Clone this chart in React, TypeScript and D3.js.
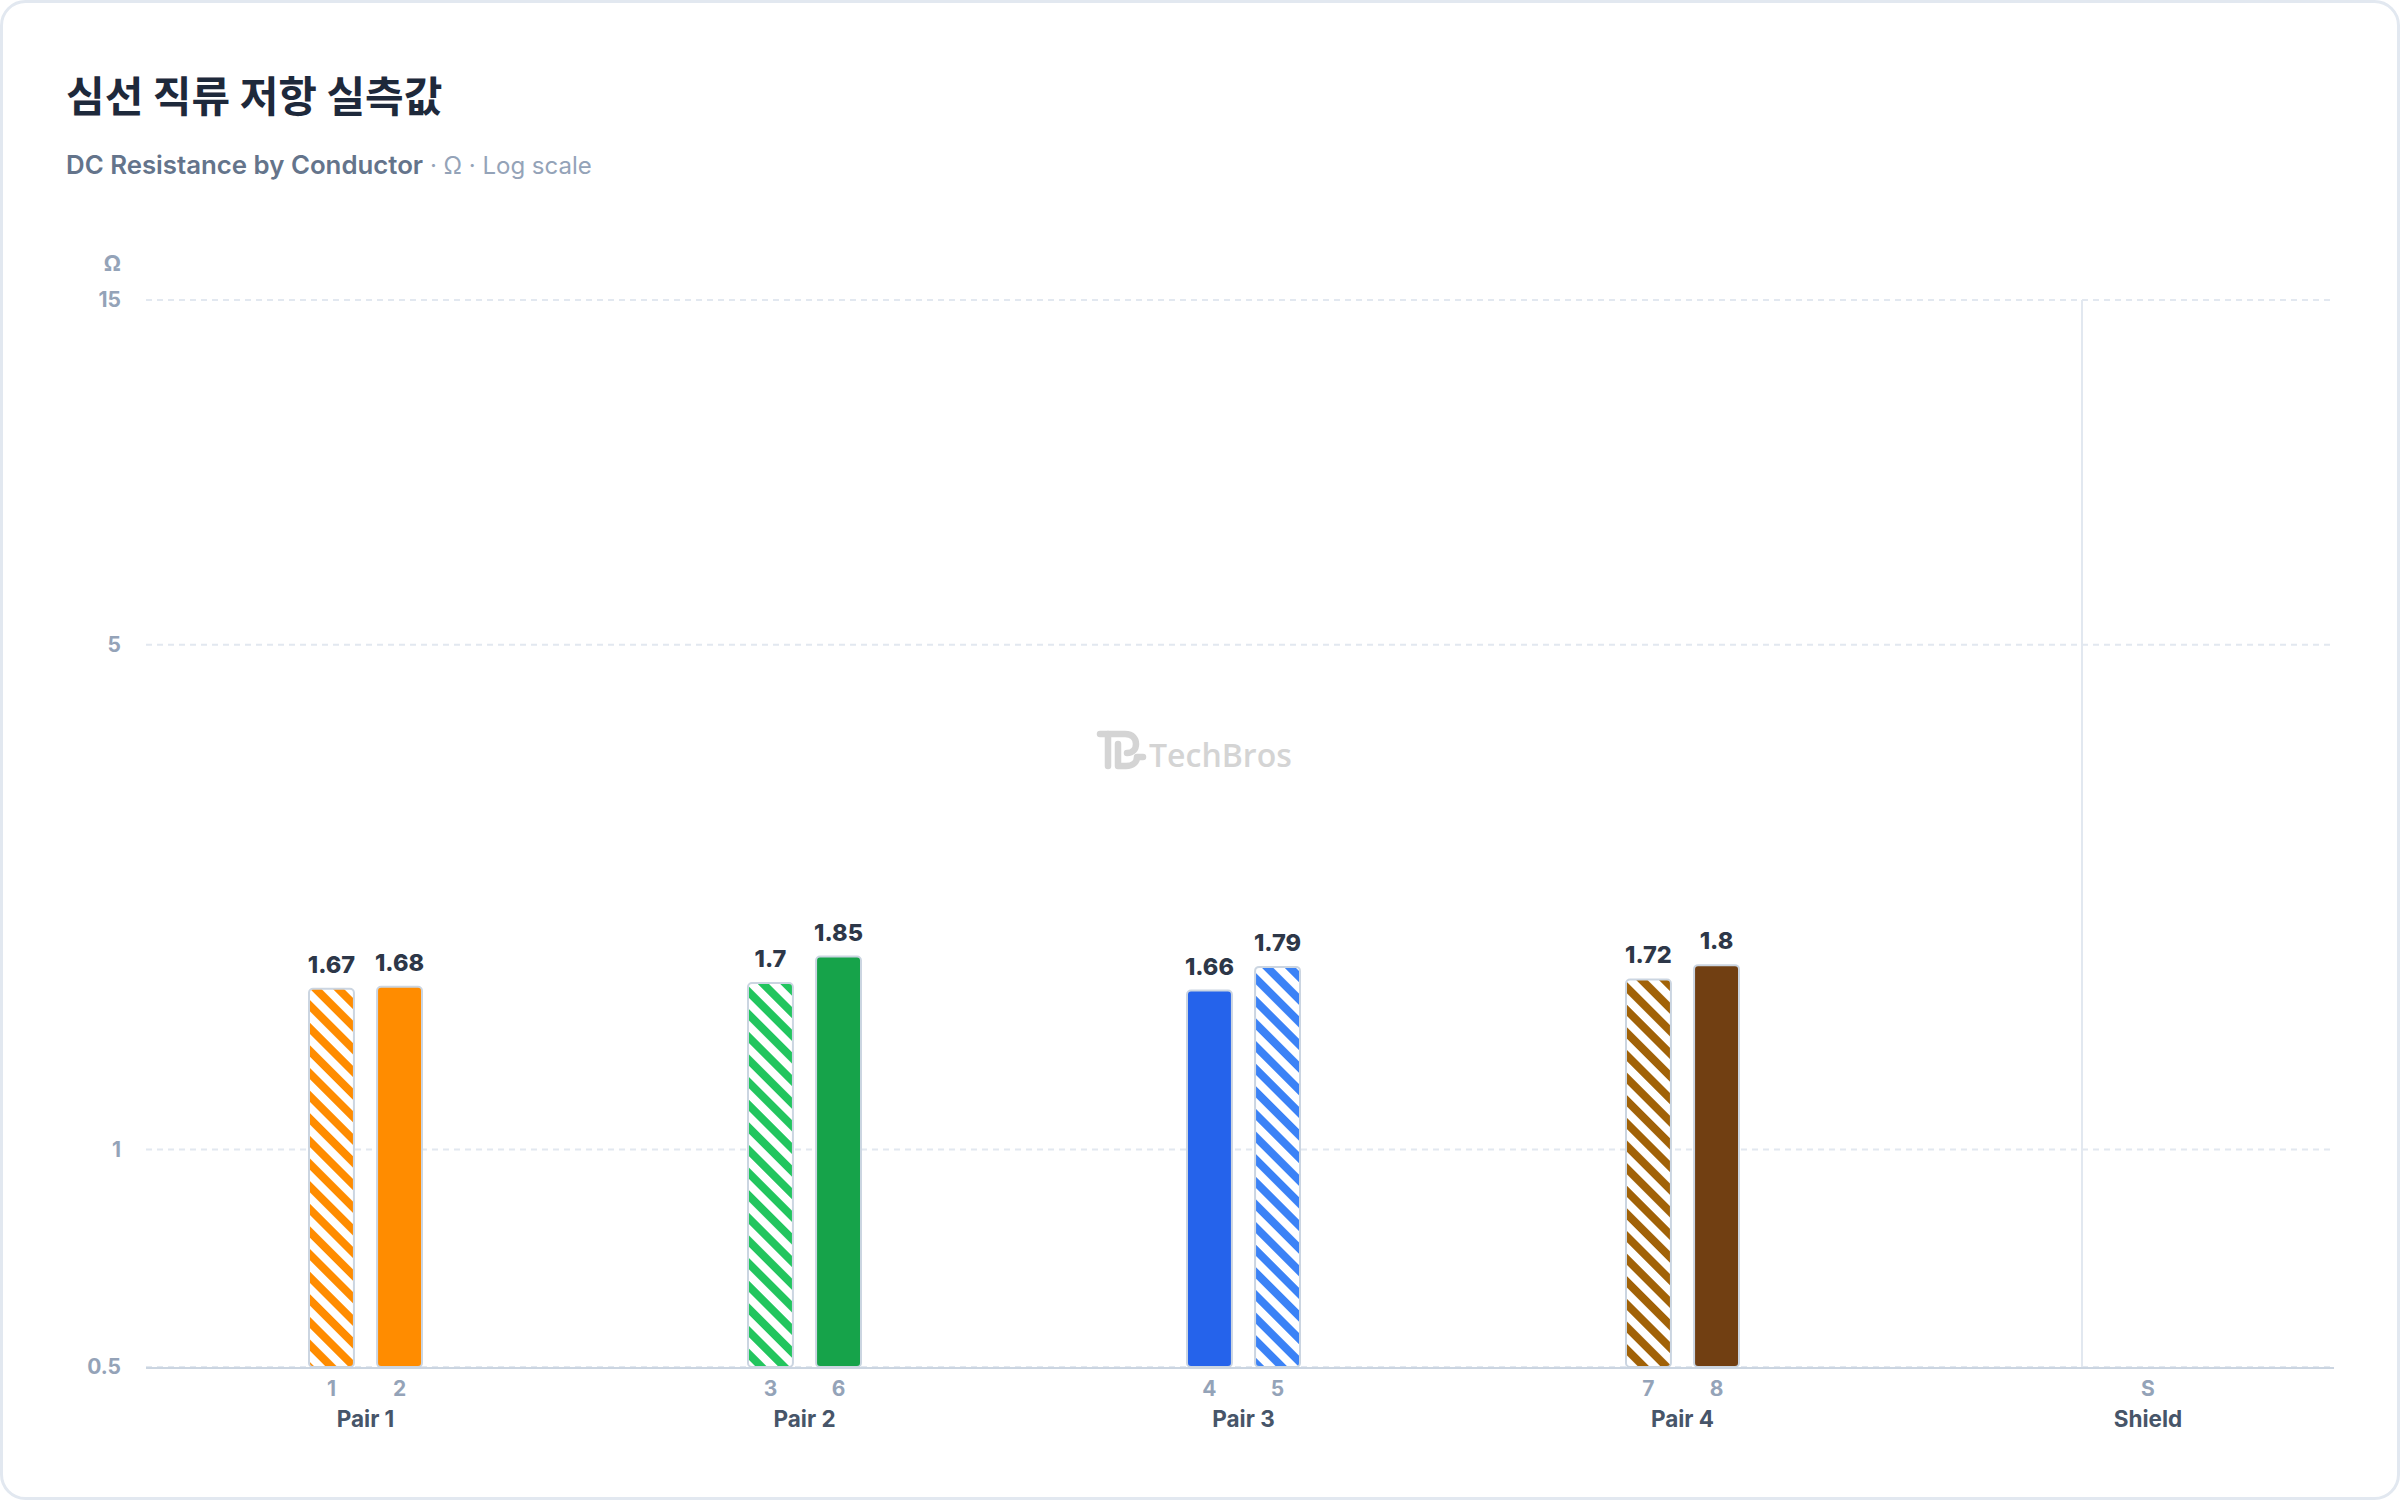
import * as d3 from "d3";

// Conductor data (Ω)
const pairs = ["Pair 1", "Pair 2", "Pair 3", "Pair 4"];
const conductors = ["1", "2", "3", "6", "4", "5", "7", "8"];
const conductorPair = ["Pair 1", "Pair 1", "Pair 2", "Pair 2", "Pair 3", "Pair 3", "Pair 4", "Pair 4"];
const resistance = [1.67, 1.68, 1.7, 1.85, 1.66, 1.79, 1.72, 1.8];
const striped = [true, false, true, false, false, true, true, false];
const barColors = ["#ff8c00", "#ff8c00", "#22c55e", "#16a34a", "#2563eb", "#3b82f6", "#a16207", "#713f12"];
const shieldTick = "S";
const shieldLabel = "Shield";
const yTicks = [0.5, 1, 5, 15];

const W = 2400;
const H = 1500;
const margin = { top: 300, right: 66, bottom: 133, left: 146 };
const FONT = "Inter, 'Noto Sans CJK KR', 'Noto Sans', sans-serif";

export default function App() {
  const plotRight = W - margin.right;
  const plotBottom = H - margin.bottom;

  const y = d3.scaleLog().domain([0.5, 15]).range([plotBottom, margin.top]);

  // groups
  const groupStep = 439;
  const x = d3
    .scaleBand<string>()
    .domain(pairs)
    .range([margin.left, margin.left + groupStep * pairs.length])
    .padding(0);
  const inner = d3.scaleBand<number>().domain([0, 1]).range([-56.5, 56.5]).paddingInner(0.34);

  const dividerX = margin.left + groupStep * pairs.length + 180;
  const shieldX = d3.scaleBand<string>().domain([shieldTick]).range([dividerX, dividerX + 132])(shieldTick)! + 66;

  const bars = conductors.map((c, i) => {
    const pair = conductorPair[i];
    const idx = conductorPair.slice(0, i).filter((p) => p === pair).length;
    const cx = x(pair)! + x.bandwidth() / 2 + inner(idx)! + inner.bandwidth() / 2;
    return { c, cx, v: resistance[i], striped: striped[i], color: barColors[i], i };
  });
  const bw = inner.bandwidth();

  return (
    <svg
      width={W}
      height={H}
      style={{ position: "absolute", left: 0, top: 0, fontFamily: FONT }}
    >
      <defs>
        {bars
          .filter((b) => b.striped)
          .map((b) => (
            <pattern
              key={b.i}
              id={`stripe-${b.i}`}
              patternUnits="userSpaceOnUse"
              width={16}
              height={16}
              patternTransform="rotate(-45)"
            >
              <rect width={16} height={16} fill="#ffffff" />
              <rect width={8} height={16} fill={b.color} />
            </pattern>
          ))}
      </defs>

      <rect x={1.5} y={1.5} width={W - 3} height={H - 3} rx={24} fill="#ffffff" stroke="#e2e8f0" strokeWidth={3} />

      {/* Title */}
      <text x={66} y={112} fontSize={42} fontWeight={700} fill="#1e293b" fontFamily="'Noto Sans CJK KR', sans-serif">
        심선 직류 저항 실측값
      </text>
      <text x={66} y={174}>
        <tspan fill="#64748b" fontWeight={600} fontSize={25.8}>DC Resistance by Conductor</tspan>
        <tspan fill="#94a3b8" fontWeight={400} fontSize={24}> · Ω · Log scale</tspan>
      </text>

      {/* Y axis */}
      <text x={121} y={271} textAnchor="end" fontSize={22} fontWeight={700} fill="#94a3b8">
        Ω
      </text>
      {yTicks.map((t) => (
        <g key={t}>
          <line
            x1={margin.left}
            x2={plotRight}
            y1={y(t)}
            y2={y(t)}
            stroke="#e2e8f0"
            strokeWidth={2}
            strokeDasharray="6 5"
          />
          <text
            x={121}
            y={y(t)}
            dy="0.35em"
            textAnchor="end"
            fontSize={21}
            fontWeight={700}
            fill="#94a3b8"
          >
            {t}
          </text>
        </g>
      ))}
      <line x1={margin.left} x2={plotRight} y1={plotBottom + 1} y2={plotBottom + 1} stroke="#cbd5e1" strokeWidth={2} />
      <line x1={dividerX} x2={dividerX} y1={margin.top} y2={plotBottom} stroke="#e2e8f0" strokeWidth={2} />

      {/* Watermark */}
      <g transform="translate(1097,730)" fill="none" stroke="#d4d4d4" strokeWidth={6.5} strokeLinecap="round" strokeLinejoin="round">
        <path d="M3,4 H28 C36,4 39,9 39,14 C39,19 36,23 30,23" />
        <path d="M11,4 V36" />
        <path d="M21,14 V36 H29 C36,36 40,32 40,27 M40,27 H46" />
      </g>
      <text x={1149} y={767} fontSize={32} fontWeight={600} fill="#d4d4d4" fontFamily="'Open Sans', sans-serif">
        TechBros
      </text>

      {/* Bars */}
      {bars.map((b) => (
        <g key={b.c}>
          <rect
            x={b.cx - bw / 2}
            y={y(b.v)}
            width={bw}
            height={plotBottom - y(b.v)}
            rx={4}
            fill={b.striped ? `url(#stripe-${b.i})` : b.color}
            stroke="#cbd5e1"
            strokeWidth={2}
          />
          <text
            x={b.cx}
            y={y(b.v) - 16}
            textAnchor="middle"
            fontSize={23.5}
            fontWeight={800}
            fill="#2d3748"
          >
            {b.v}
          </text>
          <text x={b.cx} y={1396} textAnchor="middle" fontSize={21} fontWeight={700} fill="#94a3b8">
            {b.c}
          </text>
        </g>
      ))}

      {/* Group labels */}
      {pairs.map((p) => (
        <text
          key={p}
          x={x(p)! + x.bandwidth() / 2}
          y={1427}
          textAnchor="middle"
          fontSize={22.5}
          fontWeight={700}
          fill="#475569"
        >
          {p}
        </text>
      ))}
      <text x={shieldX} y={1396} textAnchor="middle" fontSize={21} fontWeight={700} fill="#94a3b8">
        {shieldTick}
      </text>
      <text x={shieldX} y={1427} textAnchor="middle" fontSize={22.5} fontWeight={700} fill="#475569">
        {shieldLabel}
      </text>
    </svg>
  );
}
